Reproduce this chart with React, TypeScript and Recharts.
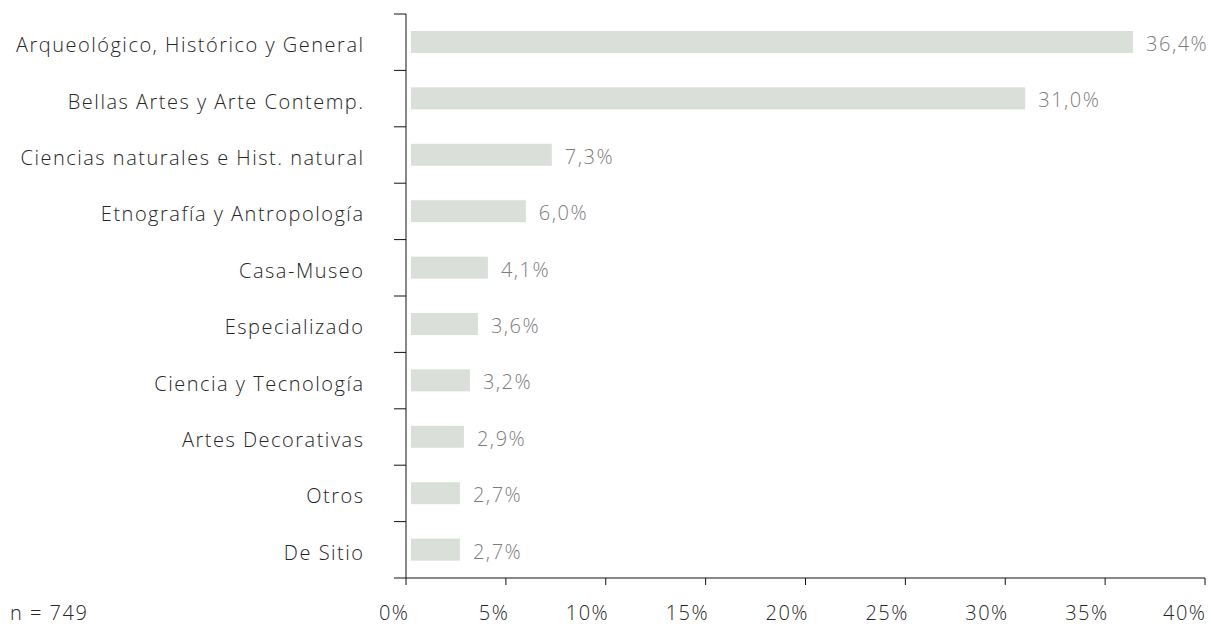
import React from 'react';
import { BarChart, Bar, XAxis, YAxis, LabelList } from 'recharts';

const categories = [
  'Arqueológico, Histórico y General',
  'Bellas Artes y Arte Contemp.',
  'Ciencias naturales e Hist. natural',
  'Etnografía y Antropología',
  'Casa-Museo',
  'Especializado',
  'Ciencia y Tecnología',
  'Artes Decorativas',
  'Otros',
  'De Sitio',
];
const values = [36.4, 31.0, 7.3, 6.0, 4.1, 3.6, 3.2, 2.9, 2.7, 2.7];
const xTicks = [0, 5, 10, 15, 20, 25, 30, 35, 40];
const sampleNote = 'n = 749';

const data = categories.map((name, i) => ({ name, value: values[i] }));

const FONT = '"Open Sans", Lato, sans-serif';
const DARK = '#262626';
const AXIS = '#111111';
const GREY = '#7c7c7c';
const LS = 1.5;
const FW = 300;

const fmt = (v: number) => v.toFixed(1).replace('.', ',') + '%';

const YTick = (props: any) => {
  const { x, y, payload, index, visibleTicksCount } = props;
  const half = payload && typeof payload.offset === 'number' && payload.offset > 0 ? payload.offset : 28.2;
  const x2 = x + 43;
  const x1 = x2 - 12;
  const isLast = index === (visibleTicksCount ?? categories.length) - 1;
  return (
    <g>
      <line x1={x1} x2={x2} y1={y - half} y2={y - half} stroke={AXIS} strokeWidth={1} />
      {isLast && <line x1={x1} x2={x2} y1={y + half} y2={y + half} stroke={AXIS} strokeWidth={1} />}
      <text x={x + LS} y={y} dy={10} textAnchor="end" fill={DARK} fontSize={20} fontWeight={FW} letterSpacing={LS} fontFamily={FONT}>
        {payload.value}
      </text>
    </g>
  );
};

const XTick = (props: any) => {
  const { x, y, payload } = props;
  return (
    <text x={x + 2 + LS} y={y} dy={33} textAnchor="end" fill={DARK} fontSize={20} fontWeight={FW} letterSpacing={LS} fontFamily={FONT}>
      {payload.value + '%'}
    </text>
  );
};

const BarShape = (props: any) => {
  const { x, y, width, height, fill } = props;
  const gap = 5;
  return <rect x={x + gap} y={y} width={Math.max(0, width - gap)} height={height} fill={fill} />;
};

const ValueLabel = (props: any) => {
  const { x, y, width, height, value } = props;
  return (
    <text x={x + width + 13} y={y + height / 2} dy={9} textAnchor="start" fill={GREY} fontSize={20} fontWeight={FW} letterSpacing={LS} fontFamily={FONT}>
      {fmt(value)}
    </text>
  );
};

export default function App() {
  return (
    <div style={{ position: 'absolute', left: 0, top: 0, width: 1211, height: 624 }}>
      <BarChart
        width={1211}
        height={624}
        data={data}
        layout="vertical"
        margin={{ top: 14, right: 6, bottom: 0, left: 0 }}
        barSize={22}
      >
        <XAxis
          type="number"
          domain={[0, 40]}
          ticks={xTicks}
          tickSize={7}
          tickMargin={2}
          height={46}
          tick={<XTick />}
          axisLine={{ stroke: AXIS, strokeOpacity: 1 }}
          tickLine={{ stroke: AXIS, strokeOpacity: 1 }}
        />
        <YAxis
          type="category"
          dataKey="name"
          width={406}
          axisLine={{ stroke: AXIS, strokeOpacity: 1 }}
          tickLine={false}
          tickSize={12}
          tickMargin={31}
          tick={<YTick />}
          interval={0}
        />
        <Bar dataKey="value" fill="#dae0d9" isAnimationActive={false} shape={<BarShape />}>
          <LabelList dataKey="value" content={<ValueLabel />} />
        </Bar>
      </BarChart>
      <div
        style={{
          position: 'absolute',
          left: 10,
          top: 601,
          fontSize: 20,
          fontWeight: FW,
          letterSpacing: LS,
          lineHeight: '24px',
          fontFamily: FONT,
          color: DARK,
          whiteSpace: 'nowrap',
        }}
      >
        {sampleNote}
      </div>
    </div>
  );
}
